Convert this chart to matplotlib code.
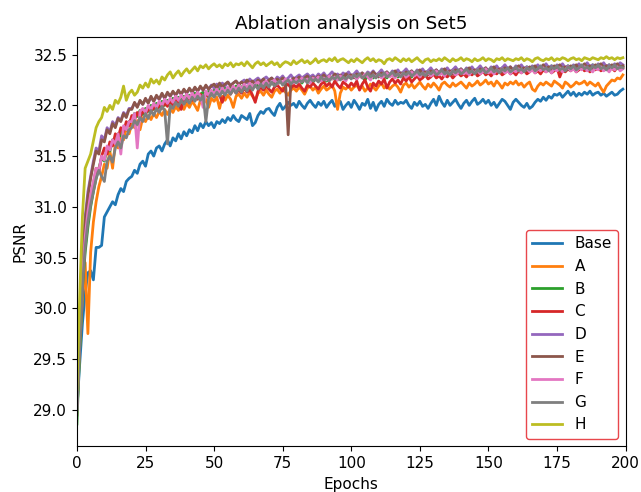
import matplotlib
matplotlib.use("Agg")
import matplotlib.pyplot as plt

plt.rcParams['font.size'] = 11

epochs = list(range(200))

base = [
    29.00, 29.45, 29.85, 30.15, 30.35, 30.37, 30.28, 30.60, 30.60, 30.62, 30.90, 30.95, 31.00, 31.05, 31.02, 31.12, 31.18, 31.15, 31.25, 31.28,
    31.30, 31.36, 31.33, 31.42, 31.45, 31.40, 31.52, 31.55, 31.50, 31.58, 31.60, 31.55, 31.62, 31.66, 31.60, 31.68, 31.65, 31.72, 31.67, 31.74,
    31.70, 31.76, 31.73, 31.80, 31.75, 31.82, 31.78, 31.84, 31.80, 31.83, 31.78, 31.84, 31.82, 31.86, 31.83, 31.88, 31.85, 31.90, 31.86, 31.84,
    31.90, 31.88, 31.86, 31.92, 31.80, 31.83, 31.90, 31.94, 31.92, 31.96, 31.97, 31.93, 31.90, 31.98, 32.02, 31.96, 31.99, 32.03, 32.00, 32.02,
    31.98, 32.04, 32.00, 31.97, 32.02, 32.05, 32.01, 31.98, 32.03, 32.00, 32.04, 31.98, 32.02, 32.05, 31.99, 32.03, 32.04, 31.96, 32.00, 32.03,
    31.98, 32.05, 32.01, 31.96, 32.02, 32.00, 32.06, 31.97, 32.03, 31.95, 32.01, 32.04, 31.99, 32.06, 32.02, 32.00, 32.05, 32.01, 32.03, 32.02,
    32.05, 32.00, 31.97, 32.03, 32.00, 32.04, 31.99, 32.01, 31.97, 32.02, 32.06, 32.00, 32.09, 32.03, 31.99, 32.05, 32.00, 32.03, 32.06, 32.01,
    31.97, 32.02, 32.05, 32.00, 32.04, 32.07, 32.01, 32.03, 32.06, 32.02, 32.05, 32.00, 32.03, 31.98, 32.02, 32.06, 32.04, 32.00, 31.96, 32.03,
    32.06, 32.03, 32.00, 31.98, 32.02, 31.97, 31.99, 32.03, 32.06, 32.04, 32.08, 32.05, 32.09, 32.07, 32.11, 32.10, 32.12, 32.08, 32.11, 32.14,
    32.10, 32.13, 32.09, 32.12, 32.10, 32.13, 32.11, 32.14, 32.10, 32.12, 32.13, 32.10, 32.12, 32.09, 32.11, 32.13, 32.10, 32.11, 32.14, 32.16,
]

a = [
    28.95, 29.60, 30.10, 30.45, 29.75, 30.55, 30.85, 31.05, 31.20, 31.30, 31.42, 31.38, 31.55, 31.38, 31.62, 31.58, 31.72, 31.66, 31.78, 31.72,
    31.82, 31.78, 31.85, 31.76, 31.88, 31.84, 31.90, 31.86, 31.92, 31.88, 31.94, 31.90, 31.96, 31.91, 31.97, 31.93, 31.99, 31.95, 32.00, 31.96,
    32.02, 31.98, 32.04, 32.00, 31.95, 32.05, 32.02, 32.06, 31.98, 32.07, 32.04, 32.08, 31.97, 32.09, 32.05, 32.10, 32.06, 31.98, 32.09, 32.11,
    32.07, 32.12, 32.08, 32.13, 32.09, 32.05, 32.12, 32.14, 32.10, 32.15, 32.11, 32.08, 32.14, 32.16, 32.12, 32.17, 32.13, 32.10, 32.15, 32.17,
    32.14, 32.18, 32.15, 32.11, 32.17, 32.19, 32.15, 32.18, 32.12, 32.16, 32.19, 32.15, 32.17, 32.20, 32.14, 31.96, 32.12, 32.18, 32.16, 32.19,
    32.15, 32.18, 32.20, 32.16, 32.19, 32.14, 32.17, 32.21, 32.18, 32.15, 32.19, 32.22, 32.17, 32.20, 32.16, 32.19, 32.21, 32.18, 32.13, 32.20,
    32.22, 32.18, 32.21, 32.17, 32.20, 32.23, 32.19, 32.16, 32.21, 32.18, 32.22, 32.19, 32.15, 32.21, 32.23, 32.20, 32.18, 32.22, 32.19, 32.21,
    32.23, 32.20, 32.17, 32.22, 32.19, 32.21, 32.24, 32.20, 32.22, 32.25, 32.21, 32.23, 32.19, 32.24, 32.21, 32.17, 32.22, 32.20, 32.23, 32.21,
    32.24, 32.20, 32.22, 32.18, 32.21, 32.23, 32.16, 32.14, 32.19, 32.22, 32.20, 32.23, 32.21, 32.19, 32.24, 32.22, 32.20, 32.17, 32.23, 32.21,
    32.18, 32.20, 32.23, 32.21, 32.22, 32.24, 32.20, 32.23, 32.21, 32.19, 32.22, 32.17, 32.13, 32.19, 32.22, 32.25, 32.24, 32.27, 32.26, 32.30,
]

b = [
    28.86, 29.60, 30.20, 30.55, 30.80, 31.00, 31.15, 31.28, 31.38, 31.48, 31.45, 31.58, 31.55, 31.66, 31.63, 31.72, 31.70, 31.78, 31.76, 31.84,
    31.86, 31.92, 31.89, 31.95, 31.91, 31.97, 31.94, 32.00, 31.96, 32.02, 31.98, 32.04, 32.00, 32.05, 32.02, 32.07, 32.03, 32.08, 32.05, 32.09,
    32.06, 32.10, 32.07, 32.12, 32.08, 32.11, 32.13, 32.09, 32.14, 32.10, 32.15, 32.12, 32.16, 32.13, 32.17, 32.14, 32.18, 32.15, 32.19, 32.16,
    32.18, 32.20, 32.17, 32.21, 32.18, 32.22, 32.19, 32.23, 32.20, 32.22, 32.24, 32.21, 32.23, 32.20, 32.24, 32.22, 32.25, 32.21, 32.24, 32.26,
    32.23, 32.25, 32.22, 32.26, 32.24, 32.27, 32.23, 32.26, 32.28, 32.25, 32.27, 32.24, 32.28, 32.26, 32.29, 32.25, 32.27, 32.30, 32.26, 32.28,
    32.27, 32.29, 32.26, 32.30, 32.28, 32.25, 32.29, 32.31, 32.27, 32.30, 32.28, 32.32, 32.29, 32.27, 32.31, 32.29, 32.32, 32.28, 32.30, 32.33,
    32.29, 32.31, 32.28, 32.32, 32.30, 32.33, 32.29, 32.31, 32.34, 32.30, 32.32, 32.29, 32.33, 32.31, 32.34, 32.30, 32.32, 32.35, 32.31, 32.33,
    32.30, 32.34, 32.32, 32.35, 32.31, 32.33, 32.36, 32.32, 32.34, 32.31, 32.35, 32.33, 32.36, 32.32, 32.34, 32.37, 32.33, 32.35, 32.32, 32.36,
    32.34, 32.37, 32.33, 32.35, 32.38, 32.34, 32.36, 32.33, 32.37, 32.35, 32.38, 32.34, 32.36, 32.39, 32.35, 32.37, 32.34, 32.38, 32.36, 32.39,
    32.35, 32.37, 32.39, 32.36, 32.38, 32.35, 32.39, 32.37, 32.40, 32.36, 32.38, 32.35, 32.39, 32.37, 32.40, 32.36, 32.38, 32.37, 32.39, 32.38,
]

c = [
    29.05, 29.70, 30.25, 30.65, 30.90, 31.10, 31.22, 31.38, 31.34, 31.50, 31.58, 31.52, 31.64, 31.60, 31.72, 31.68, 31.78, 31.74, 31.84, 31.80,
    31.90, 31.86, 31.93, 31.88, 31.95, 31.91, 31.97, 31.93, 31.99, 31.95, 32.01, 31.97, 32.03, 31.99, 32.05, 32.00, 32.06, 32.02, 31.96, 32.07,
    32.04, 32.08, 32.05, 32.10, 32.06, 32.11, 32.07, 32.12, 32.08, 32.13, 32.09, 32.14, 32.10, 32.03, 32.13, 32.15, 32.11, 32.16, 32.12, 32.15,
    32.12, 32.17, 32.13, 32.16, 32.10, 32.03, 32.14, 32.18, 32.15, 32.19, 32.16, 32.13, 32.18, 32.20, 32.17, 32.14, 32.19, 32.21, 32.17, 32.20,
    32.18, 32.21, 32.17, 32.14, 32.20, 32.18, 32.22, 32.19, 32.16, 32.21, 32.23, 32.19, 32.22, 32.18, 32.24, 32.20, 32.17, 32.23, 32.21, 32.18,
    32.22, 32.19, 32.24, 32.15, 32.21, 32.25, 32.18, 32.14, 32.22, 32.19, 32.24, 32.21, 32.26, 32.17, 32.23, 32.26, 32.22, 32.25, 32.21, 32.27,
    32.24, 32.28, 32.23, 32.26, 32.29, 32.25, 32.27, 32.30, 32.26, 32.28, 32.31, 32.27, 32.29, 32.26, 32.30, 32.28, 32.31, 32.27, 32.30, 32.32,
    32.29, 32.31, 32.28, 32.32, 32.30, 32.33, 32.29, 32.31, 32.34, 32.30, 32.32, 32.29, 32.33, 32.31, 32.34, 32.30, 32.32, 32.35, 32.31, 32.33,
    32.30, 32.34, 32.32, 32.35, 32.31, 32.33, 32.36, 32.32, 32.34, 32.31, 32.35, 32.33, 32.36, 32.32, 32.34, 32.37, 32.28, 32.35, 32.33, 32.36,
    32.34, 32.37, 32.33, 32.35, 32.38, 32.34, 32.36, 32.33, 32.37, 32.35, 32.38, 32.34, 32.36, 32.39, 32.35, 32.37, 32.34, 32.38, 32.36, 32.37,
]

d = [
    29.10, 29.90, 30.50, 30.90, 31.15, 31.30, 31.45, 31.58, 31.55, 31.70, 31.66, 31.78, 31.74, 31.84, 31.80, 31.88, 31.85, 31.93, 31.90, 31.97,
    31.97, 32.02, 31.99, 32.04, 32.01, 32.06, 32.03, 32.08, 32.04, 32.09, 32.06, 32.11, 32.07, 32.12, 32.09, 32.13, 32.10, 32.14, 32.11, 32.15,
    32.12, 32.16, 32.13, 32.17, 32.14, 32.18, 32.15, 32.19, 32.16, 32.20, 32.17, 32.21, 32.18, 32.22, 32.19, 32.23, 32.20, 32.22, 32.24, 32.21,
    32.23, 32.25, 32.22, 32.26, 32.23, 32.25, 32.27, 32.24, 32.26, 32.28, 32.25, 32.27, 32.24, 32.28, 32.26, 32.29, 32.25, 32.27, 32.30, 32.26,
    32.28, 32.30, 32.27, 32.29, 32.31, 32.28, 32.30, 32.27, 32.31, 32.29, 32.32, 32.28, 32.30, 32.33, 32.29, 32.31, 32.28, 32.32, 32.30, 32.33,
    32.29, 32.31, 32.34, 32.30, 32.32, 32.29, 32.33, 32.31, 32.34, 32.30, 32.32, 32.35, 32.31, 32.33, 32.30, 32.34, 32.32, 32.35, 32.31, 32.33,
    32.36, 32.32, 32.34, 32.31, 32.35, 32.33, 32.36, 32.32, 32.34, 32.37, 32.33, 32.35, 32.32, 32.36, 32.34, 32.37, 32.33, 32.35, 32.38, 32.34,
    32.36, 32.33, 32.37, 32.35, 32.38, 32.34, 32.36, 32.39, 32.35, 32.37, 32.34, 32.38, 32.36, 32.39, 32.35, 32.37, 32.40, 32.36, 32.38, 32.35,
    32.39, 32.37, 32.40, 32.36, 32.38, 32.35, 32.39, 32.37, 32.40, 32.36, 32.38, 32.41, 32.37, 32.39, 32.36, 32.40, 32.38, 32.41, 32.37, 32.39,
    32.36, 32.40, 32.38, 32.41, 32.37, 32.39, 32.42, 32.38, 32.40, 32.37, 32.41, 32.39, 32.42, 32.38, 32.40, 32.37, 32.41, 32.39, 32.42, 32.40,
]

e = [
    29.15, 29.85, 30.45, 30.85, 31.10, 31.28, 31.42, 31.55, 31.52, 31.66, 31.64, 31.76, 31.72, 31.82, 31.78, 31.87, 31.84, 31.92, 31.88, 31.96,
    31.96, 32.03, 31.98, 32.05, 32.01, 32.07, 32.02, 32.09, 32.04, 32.10, 32.06, 32.12, 32.07, 32.13, 32.09, 32.14, 32.10, 32.15, 32.11, 32.16,
    32.12, 32.17, 32.13, 32.18, 32.14, 32.19, 32.15, 32.20, 32.16, 32.19, 32.21, 32.17, 32.22, 32.18, 32.21, 32.23, 32.19, 32.22, 32.24, 32.20,
    32.23, 32.21, 32.25, 32.22, 32.24, 32.20, 32.25, 32.23, 32.26, 32.22, 32.25, 32.27, 32.23, 32.26, 32.24, 32.27, 32.25, 31.71, 32.24, 32.27,
    32.25, 32.28, 32.24, 32.27, 32.29, 32.25, 32.28, 32.26, 32.29, 32.27, 32.30, 32.26, 32.29, 32.27, 32.31, 32.28, 32.30, 32.26, 32.31, 32.29,
    32.30, 32.27, 32.31, 32.29, 32.32, 32.28, 32.31, 32.29, 32.33, 32.30, 32.28, 32.32, 32.30, 32.33, 32.29, 32.31, 32.34, 32.30, 32.32, 32.29,
    32.33, 32.31, 32.34, 32.30, 32.32, 32.35, 32.31, 32.33, 32.30, 32.34, 32.32, 32.35, 32.31, 32.33, 32.36, 32.32, 32.34, 32.31, 32.35, 32.33,
    32.36, 32.32, 32.34, 32.37, 32.33, 32.35, 32.32, 32.36, 32.34, 32.37, 32.33, 32.35, 32.38, 32.34, 32.36, 32.33, 32.37, 32.35, 32.38, 32.34,
    32.36, 32.39, 32.35, 32.37, 32.34, 32.38, 32.36, 32.39, 32.35, 32.37, 32.40, 32.36, 32.38, 32.35, 32.39, 32.37, 32.40, 32.36, 32.38, 32.35,
    32.39, 32.37, 32.40, 32.36, 32.38, 32.41, 32.37, 32.39, 32.36, 32.40, 32.38, 32.41, 32.37, 32.39, 32.36, 32.40, 32.38, 32.41, 32.37, 32.39,
]

f = [
    29.00, 29.75, 30.30, 30.70, 30.95, 31.12, 31.25, 31.38, 31.36, 31.50, 31.46, 31.60, 31.56, 31.66, 31.62, 31.72, 31.52, 31.80, 31.76, 31.84,
    31.84, 31.92, 31.58, 31.94, 31.97, 31.93, 32.00, 31.96, 32.02, 31.98, 32.04, 32.00, 32.06, 32.02, 32.07, 32.03, 32.09, 32.05, 32.10, 32.06,
    32.11, 32.07, 32.12, 32.08, 32.13, 32.09, 31.98, 32.14, 32.10, 32.15, 32.11, 32.16, 32.12, 32.17, 32.13, 32.18, 32.14, 32.19, 32.15, 32.20,
    32.16, 32.21, 32.17, 32.22, 32.18, 32.21, 32.23, 32.19, 32.22, 32.24, 32.20, 32.23, 32.25, 32.21, 32.24, 32.22, 32.26, 32.23, 32.25, 32.22,
    32.26, 32.23, 32.27, 32.24, 32.26, 32.22, 32.27, 32.25, 32.28, 32.24, 32.27, 32.25, 32.29, 32.26, 32.28, 32.25, 32.29, 32.27, 32.24, 32.29,
    32.27, 32.30, 32.26, 32.29, 32.27, 32.31, 32.28, 32.25, 32.30, 32.28, 32.31, 32.27, 32.29, 32.32, 32.28, 32.30, 32.27, 32.31, 32.29, 32.32,
    32.28, 32.30, 32.33, 32.29, 32.31, 32.28, 32.32, 32.30, 32.33, 32.29, 32.31, 32.34, 32.30, 32.32, 32.29, 32.33, 32.31, 32.34, 32.30, 32.32,
    32.35, 32.31, 32.33, 32.30, 32.34, 32.32, 32.35, 32.31, 32.33, 32.36, 32.32, 32.34, 32.31, 32.35, 32.33, 32.36, 32.32, 32.34, 32.31, 32.35,
    32.33, 32.36, 32.32, 32.34, 32.37, 32.33, 32.35, 32.32, 32.36, 32.34, 32.37, 32.33, 32.35, 32.32, 32.36, 32.34, 32.37, 32.33, 32.35, 32.38,
    32.34, 32.36, 32.33, 32.37, 32.35, 32.38, 32.34, 32.36, 32.33, 32.37, 32.35, 32.38, 32.34, 32.36, 32.33, 32.37, 32.35, 32.38, 32.34, 32.36,
]

g = [
    28.95, 29.65, 30.20, 30.60, 30.85, 31.02, 31.15, 31.28, 31.36, 31.30, 31.25, 31.45, 31.50, 31.44, 31.58, 31.64, 31.58, 31.70, 31.68, 31.76,
    31.78, 31.85, 31.81, 31.88, 31.84, 31.92, 31.87, 31.95, 31.90, 31.97, 31.93, 31.99, 31.95, 31.62, 32.00, 31.97, 32.03, 31.99, 32.05, 32.01,
    32.06, 32.02, 32.08, 32.04, 32.09, 32.05, 32.10, 31.84, 32.07, 32.12, 32.08, 32.13, 32.09, 32.14, 32.10, 32.15, 32.11, 32.16, 32.12, 32.17,
    32.13, 32.18, 32.14, 32.19, 32.15, 32.20, 32.16, 32.21, 32.17, 32.22, 32.18, 32.23, 32.19, 32.22, 32.24, 32.20, 32.23, 32.25, 32.21, 32.24,
    32.22, 32.25, 32.23, 32.26, 32.22, 32.27, 32.24, 32.26, 32.23, 32.28, 32.25, 32.27, 32.24, 32.28, 32.26, 32.29, 32.25, 32.28, 32.26, 32.29,
    32.26, 32.30, 32.28, 32.31, 32.27, 32.29, 32.32, 32.28, 32.30, 32.27, 32.31, 32.29, 32.32, 32.28, 32.30, 32.33, 32.29, 32.31, 32.28, 32.32,
    32.30, 32.33, 32.29, 32.31, 32.34, 32.30, 32.32, 32.29, 32.33, 32.31, 32.34, 32.30, 32.32, 32.35, 32.31, 32.33, 32.30, 32.34, 32.32, 32.35,
    32.31, 32.33, 32.36, 32.32, 32.34, 32.31, 32.35, 32.33, 32.36, 32.32, 32.34, 32.37, 32.33, 32.35, 32.32, 32.36, 32.34, 32.37, 32.33, 32.35,
    32.38, 32.34, 32.36, 32.33, 32.37, 32.35, 32.38, 32.34, 32.36, 32.39, 32.35, 32.37, 32.34, 32.38, 32.36, 32.39, 32.35, 32.37, 32.34, 32.38,
    32.36, 32.39, 32.35, 32.37, 32.40, 32.36, 32.38, 32.35, 32.39, 32.37, 32.40, 32.36, 32.38, 32.35, 32.39, 32.37, 32.40, 32.36, 32.38, 32.37,
]

h = [
    29.20, 30.10, 30.90, 31.38, 31.45, 31.52, 31.65, 31.78, 31.84, 31.88, 31.98, 31.94, 32.00, 31.96, 32.05, 32.02, 32.08, 32.19, 32.05, 32.12,
    32.15, 32.10, 32.13, 32.20, 32.17, 32.22, 32.18, 32.26, 32.22, 32.25, 32.21, 32.28, 32.25, 32.30, 32.33, 32.27, 32.31, 32.34, 32.29, 32.33,
    32.36, 32.32, 32.35, 32.38, 32.34, 32.39, 32.37, 32.40, 32.36, 32.39, 32.41, 32.38, 32.40, 32.37, 32.41, 32.39, 32.42, 32.38, 32.41, 32.40,
    32.42, 32.39, 32.43, 32.40, 32.37, 32.41, 32.43, 32.40, 32.42, 32.39, 32.41, 32.43, 32.40, 32.42, 32.38, 32.41, 32.43, 32.42, 32.40, 32.44,
    32.41, 32.43, 32.45, 32.42, 32.44, 32.41, 32.43, 32.46, 32.42, 32.44, 32.45, 32.43, 32.46, 32.44, 32.47, 32.43, 32.45, 32.46, 32.44, 32.42,
    32.45, 32.43, 32.46, 32.44, 32.42, 32.45, 32.47, 32.44, 32.46, 32.43, 32.45, 32.44, 32.41, 32.45, 32.46, 32.44, 32.47, 32.45, 32.43, 32.46,
    32.44, 32.46, 32.43, 32.45, 32.47, 32.44, 32.42, 32.45, 32.46, 32.43, 32.45, 32.44, 32.46, 32.44, 32.47, 32.45, 32.43, 32.46, 32.44, 32.45,
    32.47, 32.44, 32.46, 32.45, 32.43, 32.46, 32.44, 32.45, 32.47, 32.44, 32.46, 32.45, 32.43, 32.46, 32.45, 32.47, 32.44, 32.46, 32.45, 32.44,
    32.46, 32.45, 32.47, 32.44, 32.46, 32.45, 32.43, 32.46, 32.47, 32.45, 32.44, 32.46, 32.45, 32.47, 32.44, 32.46, 32.45, 32.47, 32.46, 32.44,
    32.46, 32.47, 32.45, 32.46, 32.44, 32.47, 32.46, 32.45, 32.47, 32.46, 32.45, 32.47, 32.46, 32.48, 32.46, 32.47, 32.45, 32.47, 32.46, 32.47,
]

labels = ["Base", "A", "B", "C", "D", "E", "F", "G", "H"]
series = [base, a, b, c, d, e, f, g, h]

fig = plt.figure(figsize=(6.41, 4.92), dpi=100)
ax = fig.add_axes([0.120, 0.093, 0.856, 0.831])

for vals, name in zip(series, labels):
    ax.plot(epochs, vals, linewidth=2, label=name)

ax.set_xlim(0, 200)
ax.set_ylim(28.64, 32.67)
ax.set_xticks([0, 25, 50, 75, 100, 125, 150, 175, 200])
ax.set_yticks([29.0, 29.5, 30.0, 30.5, 31.0, 31.5, 32.0, 32.5])
ax.set_xlabel("Epochs")
ax.set_ylabel("PSNR")
ax.set_title("Ablation analysis on Set5")

leg = ax.legend(loc="lower right", framealpha=1)
leg.get_frame().set_edgecolor("#e8474c")

fig.savefig("out.png", dpi=100)
